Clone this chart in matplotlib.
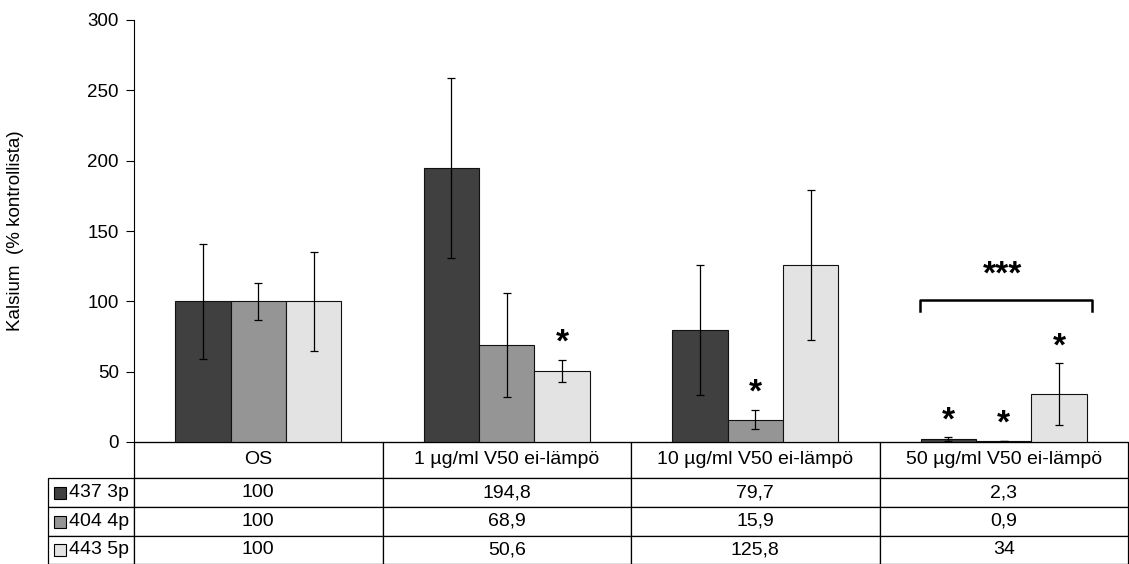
import numpy as np
import matplotlib
matplotlib.use("Agg")
import matplotlib.pyplot as plt
from matplotlib.patches import Rectangle

plt.rcParams["font.family"] = ["Liberation Sans", "DejaVu Sans"]

# ── data ──────────────────────────────────────────────────────────────────────
categories = ["OS", "1 µg/ml V50 ei-lämpö", "10 µg/ml V50 ei-lämpö", "50 µg/ml V50 ei-lämpö"]
series = ["437 3p", "404 4p", "443 5p"]
values = [
    [100, 194.8, 79.7, 2.3],
    [100, 68.9, 15.9, 0.9],
    [100, 50.6, 125.8, 34],
]
errors = [
    [41, 64, 46, 1.3],
    [13, 37, 7, 0],
    [35, 8, 53, 22],
]
# significance stars: (series index, category index)
stars = [(2, 1), (1, 2), (0, 3), (1, 3), (2, 3)]
colors = ["#404040", "#959595", "#e3e3e3"]

# ── figure ────────────────────────────────────────────────────────────────────
W, H = 1129, 564
fig = plt.figure(figsize=(W / 100, H / 100), dpi=100, facecolor="white")
ax_l, ax_r, ax_t, ax_b = 134, 1128, 20, 442
axh = ax_b - ax_t
axw = ax_r - ax_l
ax = fig.add_axes([ax_l / W, 1 - ax_b / H, axw / W, axh / H])

x = np.arange(len(categories))
bw = 0.223
for i, (vals, errs) in enumerate(zip(values, errors)):
    ax.bar(x + (i - 1) * bw, vals, bw, color=colors[i], edgecolor="#111111",
           linewidth=0.8, zorder=2)
    ax.errorbar(x + (i - 1) * bw, vals, yerr=errs, fmt="none", ecolor="black",
                elinewidth=0.9, capsize=3, capthick=0.9, zorder=3)

for s, c in stars:
    top = values[s][c] + errors[s][c]
    ax.text(c + (s - 1) * bw, top + 5.5, "*", ha="center", va="baseline",
            fontsize=24, fontweight="bold")

# bracket over last group
bx0, bx1, by = 3 - 0.337, 3 + 0.354, 101
ax.plot([bx0, bx0, bx1, bx1], [by - 8, by, by, by - 8], color="black", lw=1.8,
        zorder=3)
ax.text(2.995, 112.5, "***", ha="center", va="baseline", fontsize=24,
        fontweight="bold")

ax.set_xlim(-0.5, 3.5)
ax.set_ylim(0, 300)
ax.set_yticks(np.arange(0, 301, 50))
ax.set_xticks([])
ax.tick_params(axis="y", direction="out", length=6, width=0.8, labelsize=13.5,
               pad=5)
ax.spines["top"].set_visible(False)
ax.spines["right"].set_visible(False)
ax.spines["left"].set_linewidth(0.8)
ax.spines["bottom"].set_linewidth(0.8)
ax.set_ylabel("Kalsium  (% kontrollista)", fontsize=13.5)
ax.yaxis.set_label_coords((24 - ax_l) / axw, 0.5)

# ── data table below ─────────────────────────────────────────────────────────
def fmt(v):
    return f"{v:g}".replace(".", ",")

cell_text = [[name] + [fmt(v) for v in vals] for name, vals in zip(series, values)]
lab_w = 86
cat_w = axw / len(categories)
col_w = [lab_w] + [cat_w] * len(categories)
row_h = [36, 29, 29, 28]

tbl = ax.table(cellText=cell_text, colLabels=[""] + categories,
               cellLoc="center", colWidths=[w / sum(col_w) for w in col_w],
               bbox=[-lab_w / axw, -sum(row_h) / axh, sum(col_w) / axw,
                     sum(row_h) / axh])
tbl.auto_set_font_size(False)
tbl.set_fontsize(14)
for (r, c), cell in tbl.get_celld().items():
    cell.set_height(row_h[r] / axh)
    cell.set_linewidth(0.9)
    if r == 0 and c == 0:
        cell.visible_edges = ""
    if c == 0 and r > 0:
        cell._loc = "left"
        cell.PAD = 21 / lab_w
        cell.get_text().set_horizontalalignment("left")

# legend squares in row labels
y_top = 0
for r in range(1, 4):
    y_top -= row_h[r - 1]
    yc = y_top - row_h[r] / 2
    ax.add_patch(Rectangle(((54 - ax_l) / axw, (yc - 6) / axh), 12 / axw,
                           12 / axh, transform=ax.transAxes, clip_on=False,
                           facecolor=colors[r - 1], edgecolor="black",
                           linewidth=0.8, zorder=5))

fig.savefig("out.png", dpi=100, facecolor="white")
